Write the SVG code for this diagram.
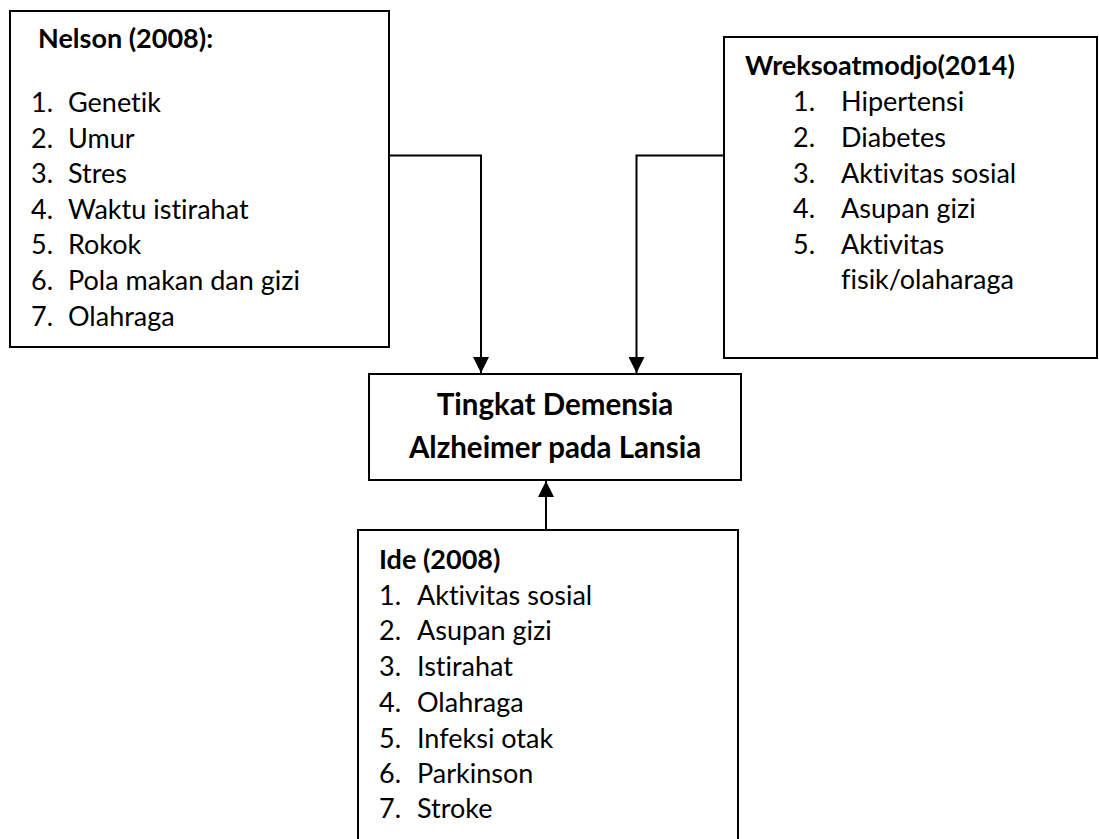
<svg xmlns="http://www.w3.org/2000/svg" width="1099" height="839" viewBox="0 0 1099 839">
<defs>
<style>
.box{fill:#fff;stroke:#000;stroke-width:2}
.t{font-family:Lato,"Open Sans",sans-serif;font-size:27px;fill:#000;font-variant-ligatures:none}
.b{font-weight:bold}
.big{font-size:29.5px}
.c{fill:none;stroke:#000;stroke-width:2}
</style>
<marker id="ah" viewBox="0 0 16 16" refX="16" refY="8" markerWidth="16" markerHeight="16" markerUnits="userSpaceOnUse" orient="auto">
<path d="M0,0 L16,8 L0,16 Z" fill="#000"/>
</marker>
</defs>
<rect width="1099" height="839" fill="#fff"/>
<g id="nelson">
<rect class="box" x="10" y="11" width="379" height="336"/>
<text class="t b" x="38" y="48">Nelson (2008):</text>
<g class="t">
<text x="31" y="112">1.</text><text x="68" y="112">Genetik</text>
<text x="31" y="148">2.</text><text x="68" y="148">Umur</text>
<text x="31" y="183">3.</text><text x="68" y="183">Stres</text>
<text x="31" y="219">4.</text><text x="68" y="219">Waktu istirahat</text>
<text x="31" y="254">5.</text><text x="68" y="254">Rokok</text>
<text x="31" y="290">6.</text><text x="68" y="290">Pola makan dan gizi</text>
<text x="31" y="326">7.</text><text x="68" y="326">Olahraga</text>
</g>
</g>
<g id="wreksoatmodjo">
<rect class="box" x="724" y="37" width="373" height="321"/>
<text class="t b" x="745" y="75">Wreksoatmodjo(2014)</text>
<g class="t">
<text x="793" y="111">1.</text><text x="841" y="111">Hipertensi</text>
<text x="793" y="147">2.</text><text x="841" y="147">Diabetes</text>
<text x="793" y="183">3.</text><text x="841" y="183">Aktivitas sosial</text>
<text x="793" y="218">4.</text><text x="841" y="218">Asupan gizi</text>
<text x="793" y="254">5.</text><text x="841" y="254">Aktivitas</text>
<text x="841" y="289">fisik/olaharaga</text>
</g>
</g>
<g id="demensia">
<rect class="box" x="369" y="374" width="372" height="106"/>
<text class="t b big" x="555" y="415" text-anchor="middle">Tingkat Demensia</text>
<text class="t b big" x="555" y="458" text-anchor="middle">Alzheimer pada Lansia</text>
</g>
<g id="ide">
<rect class="box" x="358" y="530" width="380" height="320"/>
<text class="t b" x="379" y="569">Ide (2008)</text>
<g class="t">
<text x="379" y="605">1.</text><text x="417" y="605">Aktivitas sosial</text>
<text x="379" y="640">2.</text><text x="417" y="640">Asupan gizi</text>
<text x="379" y="676">3.</text><text x="417" y="676">Istirahat</text>
<text x="379" y="712">4.</text><text x="417" y="712">Olahraga</text>
<text x="379" y="748">5.</text><text x="417" y="748">Infeksi otak</text>
<text x="379" y="783">6.</text><text x="417" y="783">Parkinson</text>
<text x="379" y="818">7.</text><text x="417" y="818">Stroke</text>
</g>
</g>
<g id="connectors">
<path class="c" d="M389,155.5 H481 V373" marker-end="url(#ah)"/>
<path class="c" d="M724,155.5 H636.5 V373" marker-end="url(#ah)"/>
<path class="c" d="M546,530 V481" marker-end="url(#ah)"/>
</g>
</svg>
